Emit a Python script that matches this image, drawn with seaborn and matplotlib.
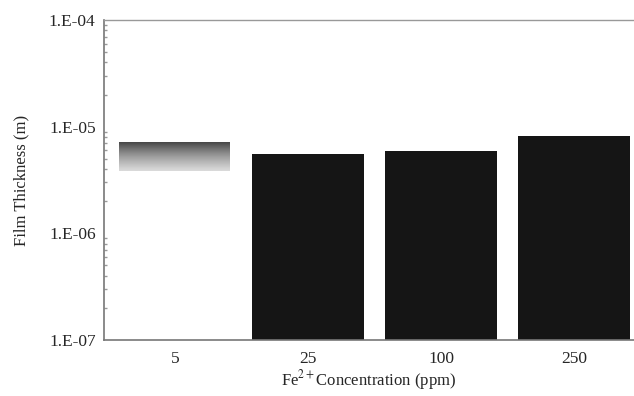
import numpy as np
import pandas as pd
import matplotlib
matplotlib.use("Agg")
import matplotlib.pyplot as plt
import seaborn as sns

concentrations = ["5", "25", "100", "250"]
thickness = [7.2e-6, 5.5e-6, 5.9e-6, 8.2e-6]
band_bottom_5ppm = 3.8e-6
bar_colors = ["#ffffff", "#151515", "#151515", "#151515"]
y_ticks = [1e-7, 1e-6, 1e-5, 1e-4]
y_ticklabels = ["1.E-07", "1.E-06", "1.E-05", "1.E-04"]

sns.set_theme(style="white")
plt.rcParams['font.family'] = ['Liberation Serif', 'DejaVu Serif']
plt.rcParams['mathtext.fontset'] = 'stix'

fig = plt.figure(figsize=(6.34, 3.96), dpi=100)
ax = fig.add_axes([104/634, 1-340/396, 1-104/634, 320/396])

df = pd.DataFrame({"conc": concentrations, "thick": thickness})
sns.barplot(data=df, x="conc", y="thick", hue="conc", palette=bar_colors,
            legend=False, width=0.84, ax=ax, saturation=1, linewidth=0)
ax.set_yscale("log")

# gradient band on the 5 ppm bar
grad = np.linspace(0.25, 0.85, 50).reshape(-1, 1)
ax.imshow(grad, extent=[-0.42, 0.42, band_bottom_5ppm, thickness[0]],
          cmap="gray", vmin=0, vmax=1, aspect="auto", origin="upper", zorder=3)
ax.set_xlim(-0.534, 3.45)
ax.set_ylim(1e-7, 1e-4)

ax.set_yticks(y_ticks)
ax.set_yticklabels(y_ticklabels, fontsize=12.5)
ax.tick_params(axis="x", labelsize=12.5, length=0, pad=8)
ax.tick_params(axis="y", which="major", length=0, pad=6)
ax.yaxis.set_minor_locator(matplotlib.ticker.LogLocator(base=10, subs=np.arange(2, 10)))
ax.tick_params(axis="y", which="minor", length=2.5, direction="in", color="#999", left=True)
ax.yaxis.set_minor_formatter(matplotlib.ticker.NullFormatter())

for s in ["left", "bottom"]:
    ax.spines[s].set_color("#777777")
    ax.spines[s].set_linewidth(1.2)
ax.spines["top"].set_color("#999999")
ax.spines["top"].set_linewidth(1.0)
ax.spines["right"].set_visible(False)

ax.set_ylabel("Film Thickness (m)", fontsize=12, labelpad=14)
ax.set_xlabel("Fe$^{2+}$Concentration (ppm)", fontsize=12, labelpad=1)

fig.savefig("out.png", dpi=100)
